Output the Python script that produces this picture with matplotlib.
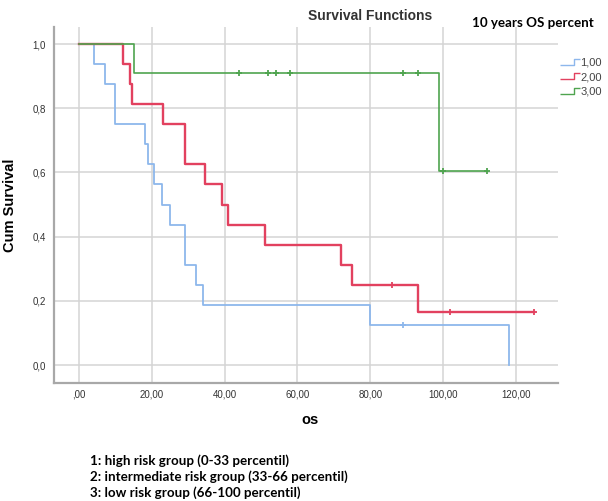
import numpy as np
import matplotlib
matplotlib.use("Agg")
import matplotlib.pyplot as plt
from matplotlib.path import Path
from matplotlib.lines import Line2D

# Kaplan-Meier step data
g1_t = [0, 4, 7, 10, 18, 19, 20.6, 22.8, 25, 29, 32, 34, 80, 118]
g1_s = [1.0, 0.9375, 0.875, 0.75, 0.6875, 0.625, 0.5625, 0.5, 0.4375, 0.3125, 0.25, 0.1875, 0.125, 0.0]
g1_cens_t = [89]
g1_cens_s = [0.125]

g2_t = [0, 12, 14, 14.6, 23, 29, 34.6, 39.3, 41, 51, 72, 75, 93, 125]
g2_s = [1.0, 0.9375, 0.875, 0.8125, 0.75, 0.625, 0.5625, 0.5, 0.4375, 0.375, 0.3125, 0.25, 0.1667, 0.1667]
g2_cens_t = [86, 102, 125]
g2_cens_s = [0.25, 0.1667, 0.1667]

g3_t = [0, 15, 99, 112]
g3_s = [1.0, 0.909, 0.606, 0.606]
g3_cens_t = [44, 52, 54, 58, 89, 93, 100, 112]
g3_cens_s = [0.909, 0.909, 0.909, 0.909, 0.909, 0.909, 0.606, 0.606]

labels = ["1,00", "2,00", "3,00"]
colors = ["#8db7ec", "#e2415f", "#4fa44f"]
xticks = [0, 20, 40, 60, 80, 100, 120]
xticklabels = [",00", "20,00", "40,00", "60,00", "80,00", "100,00", "120,00"]
yticks = [0, 0.2, 0.4, 0.6, 0.8, 1.0]
yticklabels = ["0,0", "0,2", "0,4", "0,6", "0,8", "1,0"]
notes = ["1: high risk group (0-33 percentil)",
         "2: intermediate risk group (33-66 percentil)",
         "3: low risk group (66-100 percentil)"]

plt.rcParams['font.family'] = ['Liberation Sans', 'DejaVu Sans']

fig = plt.figure(figsize=(6.08, 5.01), dpi=100)
ax = fig.add_axes([0.0888, 0.2355, 0.829, 0.7105])

series = [(g1_t, g1_s, g1_cens_t, g1_cens_s),
          (g2_t, g2_s, g2_cens_t, g2_cens_s),
          (g3_t, g3_s, g3_cens_t, g3_cens_s)]
lws = [1.3, 1.7, 1.2]
for (t, s, ct, cs), c, lw in zip(series, colors, lws):
    ax.step(t, s, where='post', color=c, lw=lw, zorder=3)
    ax.plot(ct, cs, '+', color=c, ms=5, mew=1.3, zorder=4)

ax.set_xlim(-6.9, 131.6)
ax.set_ylim(-0.056, 1.053)
ax.set_xticks(xticks)
ax.set_xticklabels(xticklabels)
ax.set_yticks(yticks)
ax.set_yticklabels(yticklabels)
ax.tick_params(length=0, labelsize=7, labelcolor='#333333')
ax.tick_params(axis='x', pad=4.5)
ax.tick_params(axis='y', pad=6)
ax.grid(True, color='#d4d4d4', lw=1.1)
ax.set_axisbelow(True)
for sp in ['top', 'right']:
    ax.spines[sp].set_visible(False)
for sp in ['left', 'bottom']:
    ax.spines[sp].set_color('#a8a8a8')
    ax.spines[sp].set_linewidth(1.6)

ax.set_ylabel("Cum Survival", fontsize=10.5, fontweight='bold')
ax.yaxis.set_label_coords(-0.073, 0.5)
ax.set_xlabel("os", fontsize=10.5, fontweight='bold', va='center')
ax.xaxis.set_label_coords(0.508, -0.104)

# step-shaped legend glyph
step_marker = Path([(-1.0, -0.3), (0.35, -0.3), (0.35, 0.3), (1.0, 0.3)],
                   [Path.MOVETO, Path.LINETO, Path.LINETO, Path.LINETO])
handles = [Line2D([], [], marker=step_marker, color=c, linestyle='none',
                  markersize=15, markerfacecolor='none', mew=1.0) for c in colors]
fig.legend(handles, labels, loc='upper left', bbox_to_anchor=(0.905, 0.905),
           frameon=False, fontsize=8, handlelength=1.7, handletextpad=0.1,
           labelspacing=0.4, labelcolor='#444444')

fig.text(0.609, 0.968, "Survival Functions", ha='center', va='center',
         fontsize=10, fontweight='bold', color='#333333')
fig.text(0.877, 0.955, "10 years OS percent", ha='center', va='center',
         fontsize=9.6, fontweight='bold', family=['Lato', 'DejaVu Sans'])

for i, line in enumerate(notes):
    fig.text(0.148, 1 - (461 + 16 * i) / 501, line, ha='left', va='center',
             fontsize=9.6, fontweight='bold', family=['Lato', 'DejaVu Sans'])

fig.savefig("out.png", dpi=100)
